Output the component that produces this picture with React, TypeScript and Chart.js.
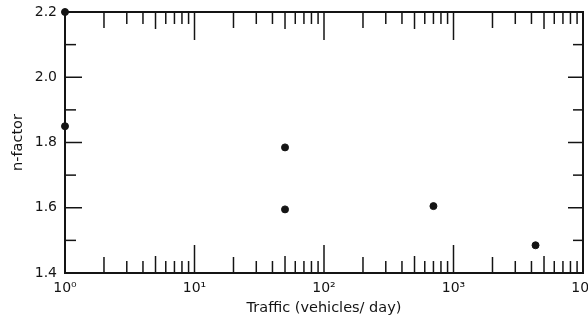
import React, { useEffect, useRef } from "react";
import { Chart, registerables } from "chart.js";
Chart.register(...registerables);

const traffic = [1, 1, 50, 50, 700, 4300];
const nFactor = [2.2, 1.85, 1.785, 1.595, 1.605, 1.485];
const xDecades = [1, 10, 100, 1000, 10000];
const xDecadeLabels = ["10⁰", "10¹", "10²", "10³", "10⁴"];
const yMajor = [1.4, 1.6, 1.8, 2.0, 2.2];
const yMinor = [1.5, 1.7, 1.9, 2.1];

const INK = "#141414";

const framePlugin = {
  id: "frame",
  beforeDatasetsDraw(chart: any) {
    const { ctx, chartArea, scales } = chart;
    const { left, right, top, bottom } = chartArea;
    const x = scales.x;
    const y = scales.y;
    ctx.save();
    ctx.strokeStyle = INK;
    ctx.lineCap = "butt";
    const line = (x1: number, y1: number, x2: number, y2: number) => {
      ctx.beginPath();
      ctx.moveTo(x1, y1);
      ctx.lineTo(x2, y2);
      ctx.stroke();
    };
    ctx.lineWidth = 1.5;
    for (let d = 0; d < 4; d++) {
      for (let m = 1; m <= 9; m++) {
        const v = m * Math.pow(10, d);
        if (v <= 1) continue;
        const px = x.getPixelForValue(v);
        const len = m === 1 ? 28 : m === 5 ? 17 : m === 2 ? 16 : 12;
        line(px, bottom, px, bottom - len);
        line(px, top, px, top + len);
      }
    }
    yMajor.forEach((v) => {
      const py = y.getPixelForValue(v);
      line(left, py, left + 17, py);
      line(right, py, right - 15, py);
    });
    yMinor.forEach((v) => {
      const py = y.getPixelForValue(v);
      line(left, py, left + 11, py);
      line(right, py, right - 10, py);
    });
    ctx.lineWidth = 2;
    ctx.strokeRect(left, top, right - left, bottom - top);
    ctx.restore();
  },
};

export default function App() {
  const ref = useRef<HTMLCanvasElement>(null);
  useEffect(() => {
    const chart = new Chart(ref.current as HTMLCanvasElement, {
      type: "scatter",
      data: {
        datasets: [
          {
            data: traffic.map((t, i) => ({ x: t, y: nFactor[i] })),
            backgroundColor: INK,
            borderColor: INK,
            pointRadius: 3.5,
            clip: false as any,
          },
        ],
      },
      options: {
        responsive: false,
        animation: false,
        layout: { padding: { top: 12, right: 5, left: 0, bottom: 0 } },
        plugins: { legend: { display: false }, tooltip: { enabled: false } },
        scales: {
          x: {
            type: "logarithmic",
            min: 1,
            max: 10000,
            grid: { display: false, drawTicks: false },
            border: { display: false },
            afterBuildTicks: (s: any) => {
              s.ticks = xDecades.map((v) => ({ value: v }));
            },
            afterFit: (s: any) => {
              s.height = 53;
              s.paddingLeft = 0;
              s.paddingRight = 0;
            },
            ticks: {
              autoSkip: false,
              maxRotation: 0,
              padding: 7,
              color: INK,
              font: { family: "DejaVu Sans", size: 14 },
              callback: (v: any) => {
                const i = xDecades.indexOf(Number(v));
                return i >= 0 ? xDecadeLabels[i] : "";
              },
            },
            title: {
              display: true,
              text: "Traffic (vehicles/ day)",
              color: INK,
              font: { family: "DejaVu Sans", size: 14.5 },
              padding: { top: 0, bottom: 9 },
            },
          },
          y: {
            min: 1.4,
            max: 2.2,
            grid: { display: false, drawTicks: false },
            border: { display: false },
            afterBuildTicks: (s: any) => {
              s.ticks = yMajor.map((v) => ({ value: v }));
            },
            afterFit: (s: any) => {
              s.width = 65;
              s.paddingTop = 0;
              s.paddingBottom = 0;
            },
            ticks: {
              padding: 8,
              color: INK,
              font: { family: "DejaVu Sans", size: 14 },
              callback: (v: any) => Number(v).toFixed(1),
            },
            title: {
              display: true,
              text: "n-factor",
              color: INK,
              font: { family: "DejaVu Sans", size: 14.5 },
              padding: { top: 10, bottom: 0 },
            },
          },
        },
      },
      plugins: [framePlugin],
    } as any);
    return () => chart.destroy();
  }, []);
  return (
    <canvas
      ref={ref}
      width={588}
      height={326}
      style={{ position: "absolute", left: 0, top: 0, background: "#fff" }}
    />
  );
}
